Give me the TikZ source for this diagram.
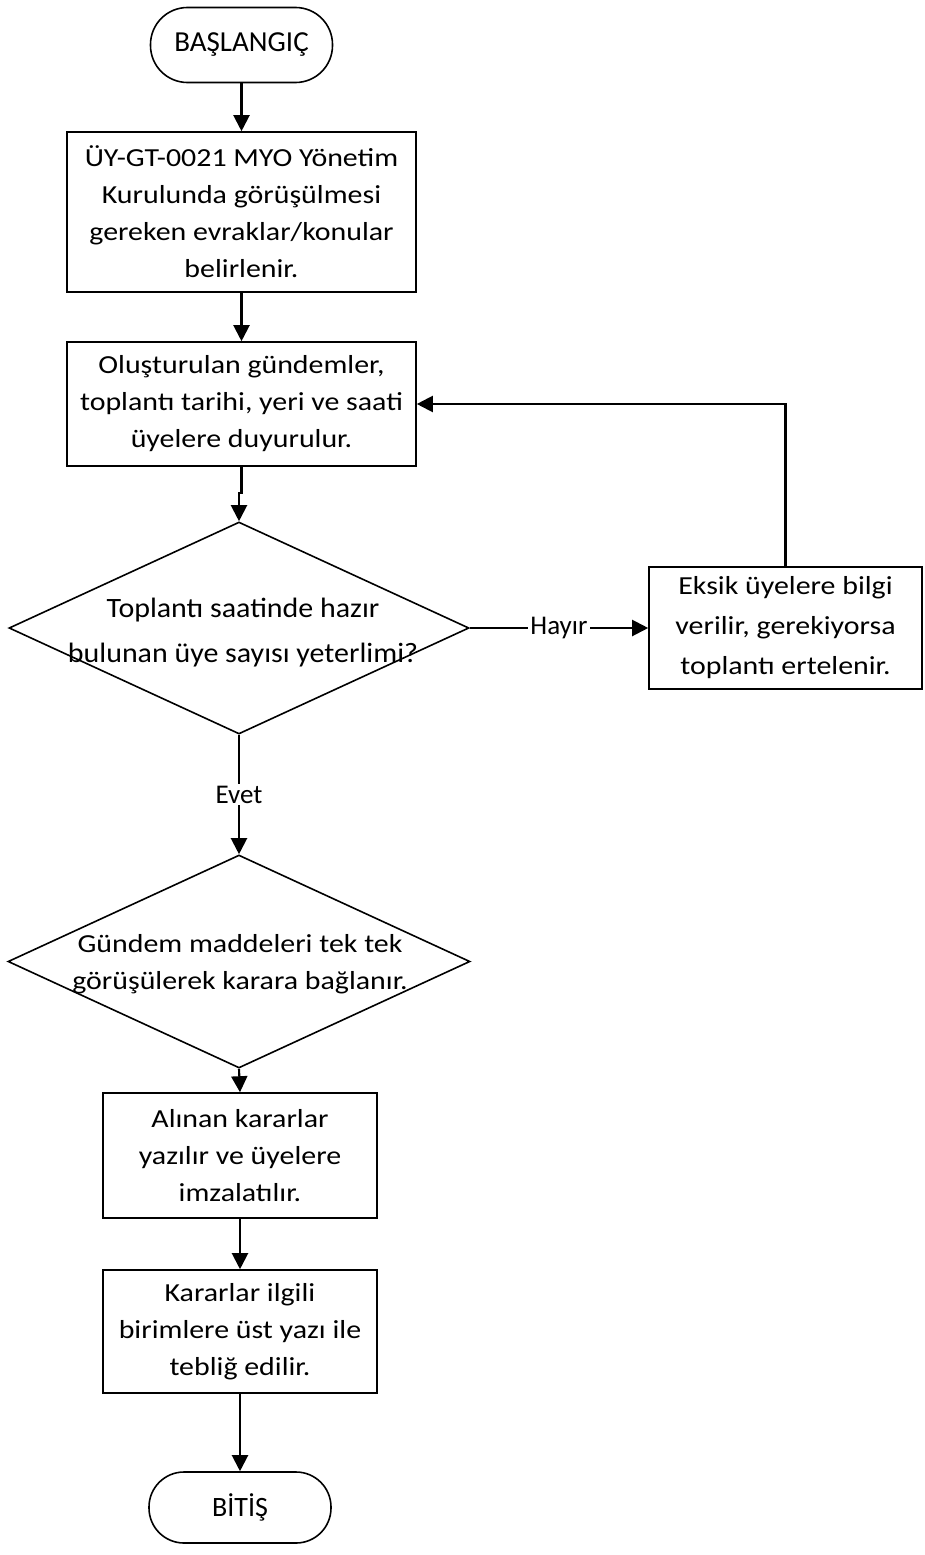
\documentclass[tikz,border=0pt]{standalone}
\usepackage{fontspec}
\setmainfont{Carlito}
\newfontfamily\fB[FakeStretch=1.07]{Carlito}
\newfontfamily\fC[FakeStretch=1.15]{Carlito}
\usetikzlibrary{shapes.geometric,arrows.meta}
\tikzset{
  shp/.style={draw, line width=1.6pt, inner sep=0pt, align=center},
  procbox/.style={shp, rectangle},
  termbox/.style={shp, rectangle},
  decbox/.style={shp, diamond},
  txtA/.style={align=center, inner sep=0pt, font=\fC\fontsize{26}{37}\selectfont},
  txtB/.style={align=center, inner sep=0pt, font=\fB\fontsize{28}{45}\selectfont},
  txtE/.style={align=center, inner sep=0pt, font=\fC\fontsize{26}{40}\selectfont},
  txtC/.style={align=center, inner sep=0pt, font=\fC\fontsize{26}{37}\selectfont},
  txtT/.style={align=center, inner sep=0pt, font=\fontsize{29}{35}\selectfont},
  arr/.style={line width=2.1pt, -{Triangle[length=16pt,width=16pt]}},
  lbl/.style={fill=white, inner sep=2pt, font=\fontsize{27}{30}\selectfont},
}
\begin{document}
\begin{tikzpicture}[x=1pt,y=-1pt]
\useasboundingbox (0,0) rectangle (924,1555);
\node[termbox, rounded corners=37pt, minimum width=182pt, minimum height=75pt, txtT] (start) at (241.5,45) {BAŞLANGIÇ};
\node[procbox, minimum width=349pt, minimum height=160pt, txtA] (b1) at (241.5,212) {ÜY-GT-0021 MYO Yönetim\\Kurulunda görüşülmesi\\gereken evraklar/konular\\belirlenir.};
\node[procbox, minimum width=349pt, minimum height=124pt, txtA] (b2) at (241.5,404) {Oluşturulan gündemler,\\toplantı tarihi, yeri ve saati\\üyelere duyurulur.};
\node[decbox, minimum width=460pt, minimum height=212pt] (d1) at (239,628) {};
\node[txtB] (d1t) at (243,633) {Toplantı saatinde hazır\\bulunan üye sayısı yeterlimi?};
\node[procbox, minimum width=273pt, minimum height=122pt, txtE] (ek) at (785.5,628) {Eksik üyelere bilgi\\verilir, gerekiyorsa\\toplantı ertelenir.};
\node[decbox, minimum width=462pt, minimum height=213pt] (d2) at (239,961.5) {};
\node[txtC] (d2t) at (240,964) {Gündem maddeleri tek tek\\görüşülerek karara bağlanır.};
\node[procbox, minimum width=274pt, minimum height=125pt, txtC] (b3) at (240,1155.5) {Alınan kararlar\\yazılır ve üyelere\\imzalatılır.};
\node[procbox, minimum width=274pt, minimum height=123pt, txtC] (b4) at (240,1331.5) {Kararlar ilgili\\birimlere üst yazı ile\\tebliğ edilir.};
\node[termbox, rounded corners=35pt, minimum width=182pt, minimum height=71pt, font=\fontsize{28}{34}\selectfont] (end) at (240,1507.5) {BİTİŞ};
% connectors
\draw[arr] (start) -- (b1);
\draw[arr] (b1) -- (b2);
\draw[arr] (b2.south) -- ++(0,26) -| (d1.north);
\draw[arr] (d1.east) -- node[lbl] (hay) {Hayır} (ek.west);
\draw[arr] (ek.north) |- (b2.east);
\draw[arr] (d1.south) -- node[lbl] (evt) {Evet} (d2.north);
\draw[arr] (d2.south) -- (b3.north);
\draw[arr] (b3) -- (b4);
\draw[arr] (b4) -- (end);
\end{tikzpicture}
\end{document}
